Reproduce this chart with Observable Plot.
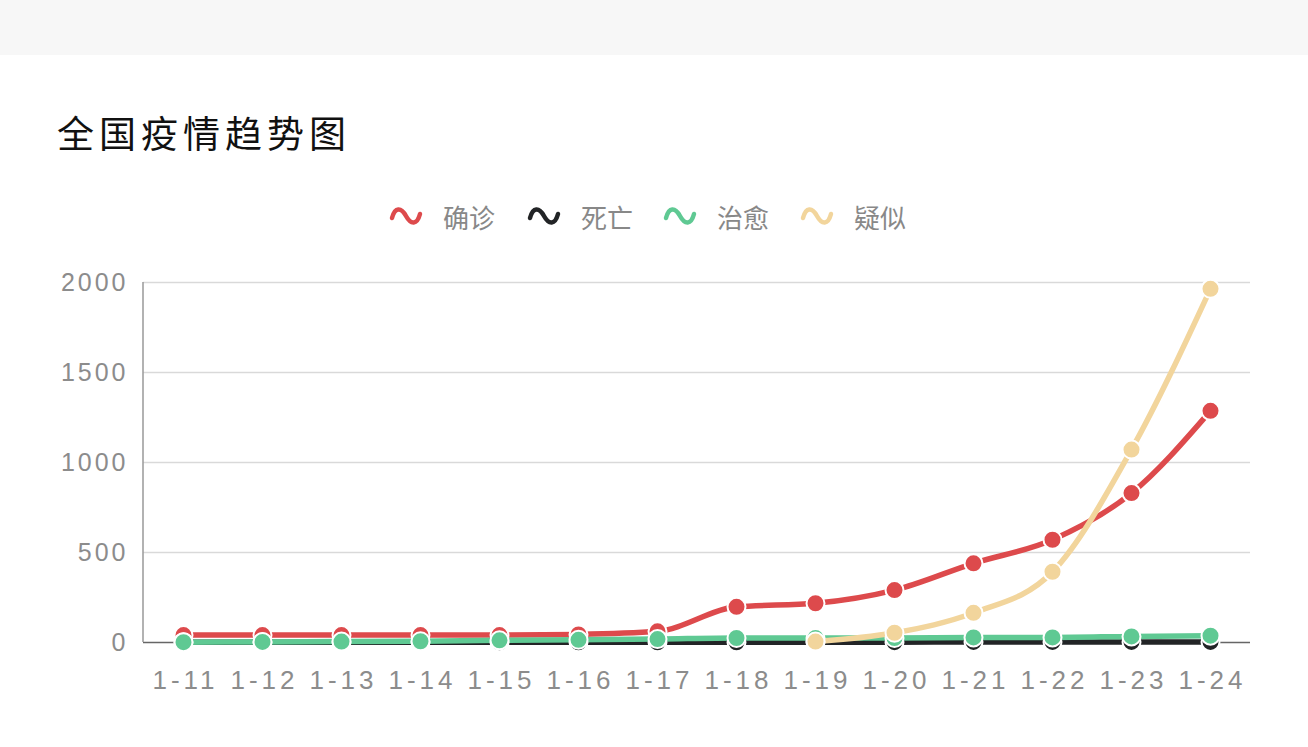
<!DOCTYPE html>
<html>
<head>
<meta charset="utf-8">
<script src="https://cdn.jsdelivr.net/npm/d3@7"></script>
<script src="https://cdn.jsdelivr.net/npm/@observablehq/plot@0.6"></script>
<style>
  html, body { margin: 0; padding: 0; background: #fff; width: 1308px; height: 747px; overflow: hidden; }
  #band { position: absolute; left: 0; top: 0; width: 1308px; height: 55px; background: #f7f7f7; }
  #title { position: absolute; left: 57px; top: 108px; font-family: "Noto Sans CJK SC", sans-serif; font-weight: 400; font-size: 37px; line-height: 48px; color: #111; letter-spacing: 5px; }
  #legend { position: absolute; left: 0; top: 196px; width: 1308px; height: 40px; font-family: "Noto Sans CJK SC", sans-serif; font-size: 26px; color: #888; }
  .item { position: absolute; top: 0; height: 40px; display: flex; align-items: center; }
  .item svg { margin-right: 20px; }
  #chart { position: absolute; left: 0; top: 250px; }
  #chart g[aria-label="x-axis tick label"] text { letter-spacing: 4px; }
  #chart g[aria-label="y-axis tick label"] text { letter-spacing: 3px; }
</style>
</head>
<body>
<div id="band"></div>
<div id="title">全国疫情趋势图</div>
<div id="legend"></div>
<div id="chart"></div>
<script>
const dates = ["1-11","1-12","1-13","1-14","1-15","1-16","1-17","1-18","1-19","1-20","1-21","1-22","1-23","1-24"];
const confirmed = [41,41,41,41,41,45,62,198,218,291,440,571,830,1287];
const deaths = [1,1,1,1,1,1,1,1,2,2,3,3,3,3];
const cured = [2,3,5,7,12,15,19,25,25,25,28,28,34,38];
const suspected = [null,null,null,null,null,null,null,null,5,54,165,393,1072,1965];
const seriesNames = ["确诊","死亡","治愈","疑似"];
const seriesColors = ["#dd4a4c","#222426","#5fc993","#f2d59c"];
const yTicks = [0,500,1000,1500,2000];

const seriesValues = [confirmed, deaths, cured, suspected];
const rows = [];
seriesNames.forEach((name, i) => {
  dates.forEach((d, j) => {
    const v = seriesValues[i][j];
    if (v !== null) rows.push({series: name, date: d, value: v});
  });
});

const legend = document.getElementById("legend");
const legendX = [389, 527, 663, 800];
seriesNames.forEach((name, i) => {
  const it = document.createElement("div");
  it.className = "item";
  it.style.left = legendX[i] + "px";
  it.innerHTML = `<svg width="34" height="24" viewBox="0 0 34 24"><path d="M3,14 C6,3 12,3 17,12 C22,21 28,21 31,10" fill="none" stroke="${seriesColors[i]}" stroke-width="4.5" stroke-linecap="round"/></svg><span>${name}</span>`;
  legend.appendChild(it);
});

const font = "'Liberation Sans', Arial, sans-serif";
const chart = Plot.plot({
  width: 1308,
  height: 460,
  marginLeft: 143,
  marginRight: 58,
  marginTop: 32,
  marginBottom: 68,
  style: {background: "transparent", fontFamily: font, overflow: "visible"},
  x: {type: "point", domain: dates, padding: 0.5, label: null},
  y: {domain: [0, 2000], ticks: yTicks, label: null},
  color: {domain: seriesNames, range: seriesColors},
  marks: [
    Plot.gridY(yTicks.filter(t => t > 0), {stroke: "#d9d9d9", strokeOpacity: 1, strokeWidth: 1.5}),
    Plot.axisY({ticks: yTicks, tickFormat: d => String(d), tickSize: 0, tickPadding: 15, fontSize: 25, fill: "#8c8c8c"}),
    Plot.ruleY([0], {stroke: "#666", strokeWidth: 1.5}),
    Plot.axisX({tickSize: 6, tickPadding: 22, fontSize: 26, fill: "#8c8c8c", stroke: "#777", dx: 2}),
    Plot.lineY(rows, {x: "date", y: "value", z: "series", stroke: "series", strokeWidth: 5.5, curve: "monotone-x"}),
    Plot.dot(rows, {x: "date", y: "value", fill: "series", stroke: "#fff", strokeWidth: 2, r: 9}),
  ]
});
const svg = d3.select(chart);
svg.append("line").attr("x1", 143).attr("x2", 143).attr("y1", 282 - 250).attr("y2", 642 - 250).attr("stroke", "#999").attr("stroke-width", 1.5);
document.getElementById("chart").appendChild(chart);
</script>
</body>
</html>
